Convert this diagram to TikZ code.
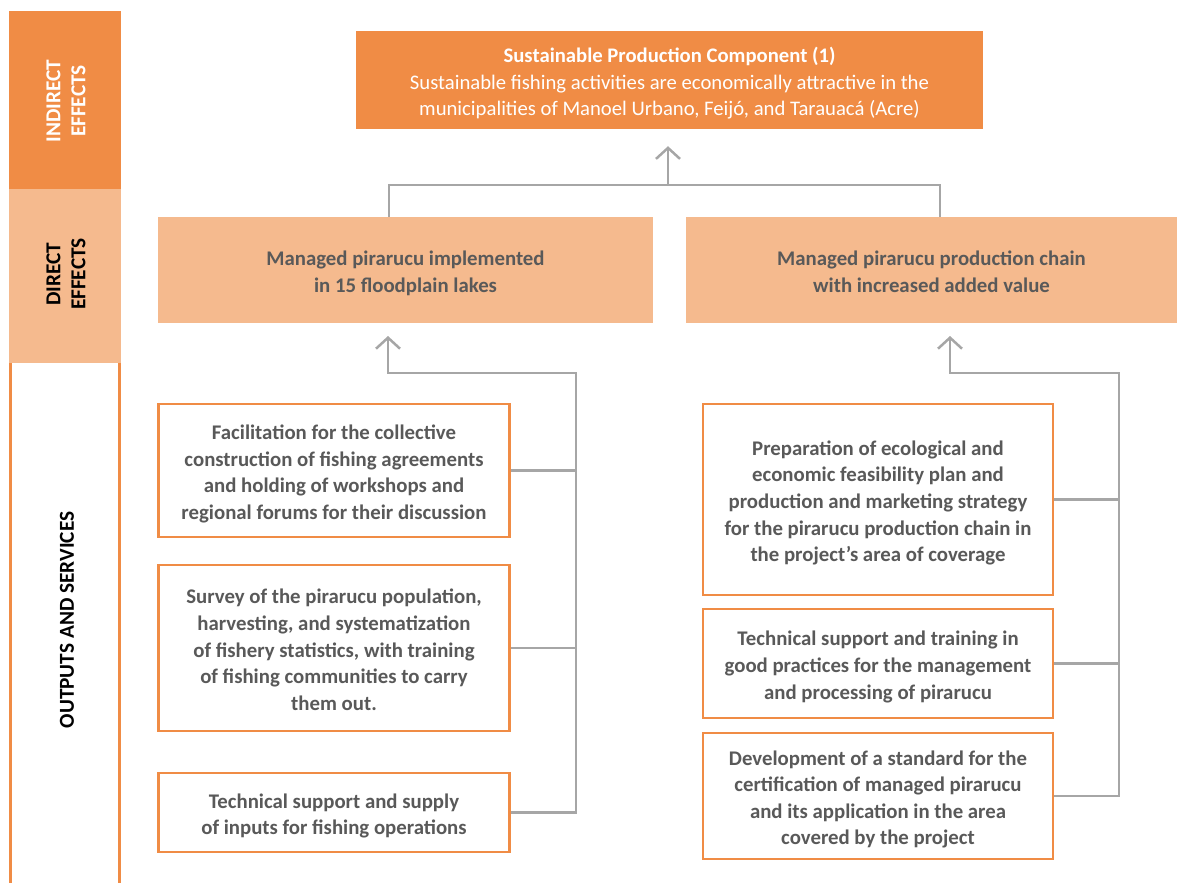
\documentclass[tikz,border=0pt]{standalone}
\usepackage{fontspec}
\setmainfont{Carlito}
\usetikzlibrary{arrows.meta}
\definecolor{dorange}{HTML}{F08C45}
\definecolor{lorange}{HTML}{F5BA8E}
\definecolor{txtgray}{HTML}{595959}
\definecolor{conngray}{HTML}{A6A6A6}
\newcommand\boxtxt[1]{\raisebox{0pt}[\dimexpr\height+7.5pt\relax][\depth]{\begin{tabular}{@{}c@{}}#1\end{tabular}}}
\begin{document}
\begin{tikzpicture}[x=1pt,y=-1pt,
  bandtext/.style={rotate=90, align=center, font=\bfseries\fontsize{21.3}{25}\selectfont, inner sep=0pt},
  topbox/.style={fill=dorange, text=white, inner sep=0pt, font=\fontsize{20.7}{26.6}\selectfont},
  effbox/.style={fill=lorange, text=txtgray, inner sep=0pt, font=\bfseries\fontsize{20.8}{26.6}\selectfont},
  outbox/.style={draw=dorange, line width=2.5pt, fill=white, text=txtgray, inner sep=0pt, font=\bfseries\fontsize{20.8}{26.6}\selectfont},
  conn/.style={draw=conngray, line width=2.5pt},
  upto/.style={-{Straight Barb[length=11pt,width=24pt]}}
]
\useasboundingbox (0,0) rectangle (1177,883);
% left band
\fill[dorange] (9,11) rectangle (121,189);
\fill[lorange] (9,189) rectangle (121,363);
\draw[dorange, line width=2.5pt] (10.5,363) -- (10.5,883);
\draw[dorange, line width=2.5pt] (119.5,363) -- (119.5,883);
\node[bandtext, text=white] (ind) at (66,101) {INDIRECT\\EFFECTS};
\node[bandtext, text=black] (dir) at (66,274) {DIRECT\\EFFECTS};
\node[bandtext, text=black] (outs) at (67,620) {OUTPUTS AND SERVICES};

% top box
\node[topbox, minimum width=627pt, minimum height=98pt] (top) at (669.5,80)
  {\boxtxt{\textbf{Sustainable Production Component (1)}\\
   Sustainable fishing activities are economically attractive in the\\
   municipalities of Manoel Urbano, Feijó, and Tarauacá (Acre)}};

% direct effects
\node[effbox, minimum width=495pt, minimum height=106pt] (d1) at (405.5,270)
  {\boxtxt{Managed pirarucu implemented\\in 15 floodplain lakes}};
\node[effbox, minimum width=491pt, minimum height=106pt] (d2) at (931.5,270)
  {\boxtxt{Managed pirarucu production chain\\with increased added value}};

% outputs left
\node[outbox, minimum width=351pt, minimum height=133pt] (l1) at (334,470.5)
  {\boxtxt{Facilitation for the collective\\construction of fishing agreements\\and holding of workshops and\\regional forums for their discussion}};
\node[outbox, minimum width=351pt, minimum height=166pt] (l2) at (334,648)
  {\boxtxt{Survey of the pirarucu population,\\harvesting, and systematization\\of fishery statistics, with training\\of fishing communities to carry\\them out.}};
\node[outbox, minimum width=351pt, minimum height=79pt] (l3) at (334,812.5)
  {\boxtxt{Technical support and supply\\of inputs for fishing operations}};

% outputs right
\node[outbox, minimum width=350pt, minimum height=191pt] (r1) at (878,499.5)
  {\boxtxt{Preparation of ecological and\\economic feasibility plan and\\production and marketing strategy\\for the pirarucu production chain in\\the project's area of coverage}};
\node[outbox, minimum width=350pt, minimum height=109pt] (r2) at (878,663.5)
  {\boxtxt{Technical support and training in\\good practices for the management\\and processing of pirarucu}};
\node[outbox, minimum width=350pt, minimum height=126pt] (r3) at (878,796)
  {\boxtxt{Development of a standard for the\\certification of managed pirarucu\\and its application in the area\\covered by the project}};

% top connectors
\coordinate (jl) at (389,185);
\coordinate (jr) at (940,185);
\coordinate (jm) at (668,185);
\draw[conn] (d1.north -| jl) -- (jl) -- (jr) -- (d2.north -| jr);
\draw[conn, upto, shorten >=17pt] (jm) -- (top.south -| jm);

% left connectors
\coordinate (lv) at (576,373);
\coordinate (la) at (388,323);
\draw[conn, upto, shorten >=13pt] (l3.east) -| (lv) -| (la);
\draw[conn] (l1.east) -- (l1.east -| lv);
\draw[conn] (l2.east) -- (l2.east -| lv);

% right connectors
\coordinate (rv) at (1119,373);
\coordinate (ra) at (950,323);
\draw[conn, upto, shorten >=13pt] (r3.east) -| (rv) -| (ra);
\draw[conn] (r1.east) -- (r1.east -| rv);
\draw[conn] (r2.east) -- (r2.east -| rv);
\end{tikzpicture}
\end{document}
